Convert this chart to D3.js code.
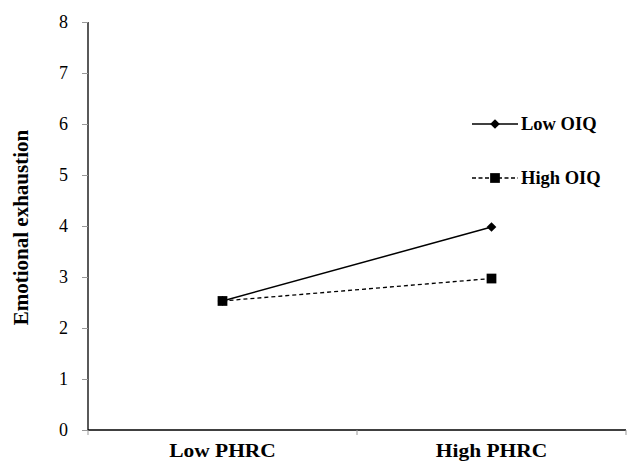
<!DOCTYPE html>
<html>
<head>
<meta charset="utf-8">
<script src="https://cdn.jsdelivr.net/npm/d3@7"></script>
<style>
  body { margin: 0; background: #fff; }
  svg text { font-family: "Liberation Serif", "DejaVu Serif", serif !important; fill: #000; }
</style>
</head>
<body>
<div class="chart"></div>
<script>
// chart data
var categories = ["Low PHRC", "High PHRC"];
var seriesNames = ["Low OIQ", "High OIQ"];
var lowOIQ = [2.53, 3.98];
var highOIQ = [2.53, 2.97];
var yTicks = [0, 1, 2, 3, 4, 5, 6, 7, 8];

var svgWidth = 629, svgHeight = 465;
var margin = { top: 22, right: 3, bottom: 35, left: 88 };
var width = svgWidth - margin.left - margin.right;
var height = svgHeight - margin.top - margin.bottom;

var svg = d3.select(".chart").append("svg")
  .attr("width", svgWidth)
  .attr("height", svgHeight);

var chartGroup = svg.append("g")
  .attr("transform", `translate(${margin.left}, ${margin.top})`);

var xScale = d3.scaleBand().domain(categories).range([0, width]);
var yScale = d3.scaleLinear().domain([0, 8]).range([height, 0]);

// y axis
var leftAxis = d3.axisLeft(yScale).tickValues(yTicks).tickSize(6).tickPadding(14);
var yAxisG = chartGroup.append("g").call(leftAxis).attr("font-family", null);
yAxisG.select(".domain").attr("stroke", "#000").attr("stroke-width", 1.3).attr("d", `M0,0V${height}`);
yAxisG.selectAll(".tick line").attr("stroke", "#999");
yAxisG.selectAll(".tick text").style("font-size", "18px").attr("dy", "0.3em");

// x axis
var bottomAxis = d3.axisBottom(xScale).tickSize(0).tickPadding(14);
var xAxisG = chartGroup.append("g")
  .attr("transform", `translate(0, ${height})`)
  .call(bottomAxis).attr("font-family", null);
xAxisG.select(".domain").attr("stroke", "#000").attr("stroke-width", 1.3).attr("d", `M0,0H${width}`);
xAxisG.selectAll(".tick text")
  .style("font-size", "19px").style("font-weight", "bold")
  .each(function () {
    var w = this.getComputedTextLength();
    d3.select(this).attr("textLength", w * 1.13).attr("lengthAdjust", "spacingAndGlyphs");
  });
// boundary ticks between categories
[0, xScale.bandwidth(), width].forEach(function (x) {
  chartGroup.append("line")
    .attr("x1", x).attr("x2", x)
    .attr("y1", height).attr("y2", height + 5)
    .attr("stroke", "#999");
});

// y label
svg.append("text")
  .attr("transform", "rotate(-90)")
  .attr("x", -227.5)
  .attr("y", 28)
  .attr("text-anchor", "middle")
  .style("font-size", "21px")
  .style("font-weight", "bold")
  .text("Emotional exhaustion");

var xc = d => xScale(d) + xScale.bandwidth() / 2;
var line = d3.line().x((d, i) => xc(categories[i])).y(d => yScale(d));

// lines
chartGroup.append("path").datum(highOIQ)
  .attr("d", line).attr("fill", "none").attr("stroke", "#000")
  .attr("stroke-width", 1.3).attr("stroke-dasharray", "4,3");
chartGroup.append("path").datum(lowOIQ)
  .attr("d", line).attr("fill", "none").attr("stroke", "#000")
  .attr("stroke-width", 1.5);

var diamond = d3.symbol().type(d3.symbolDiamond2).size(60);
var square = d3.symbol().type(d3.symbolSquare).size(95);

chartGroup.selectAll(".lowPt").data(lowOIQ).enter().append("path")
  .attr("transform", (d, i) => `translate(${xc(categories[i])}, ${yScale(d)})`)
  .attr("d", diamond).attr("fill", "#000");
chartGroup.selectAll(".highPt").data(highOIQ).enter().append("path")
  .attr("transform", (d, i) => `translate(${xc(categories[i])}, ${yScale(d)})`)
  .attr("d", square).attr("fill", "#000");

// legend
var legend = svg.append("g").attr("transform", "translate(472, 124)");
var legendRows = [
  { name: seriesNames[0], dash: null, sym: diamond, y: 0 },
  { name: seriesNames[1], dash: "4,2.5", sym: square, y: 54 }
];
legendRows.forEach(function (r) {
  var g = legend.append("g").attr("transform", `translate(0, ${r.y})`);
  g.append("line").attr("x1", 0).attr("x2", 46).attr("y1", 0).attr("y2", 0)
    .attr("stroke", "#000").attr("stroke-width", 1.5)
    .attr("stroke-dasharray", r.dash);
  g.append("path").attr("transform", "translate(23, 0)").attr("d", r.sym).attr("fill", "#000");
  g.append("text").attr("x", 49).attr("y", 6)
    .style("font-size", "18.5px").style("font-weight", "bold")
    .text(r.name);
});
</script>
</body>
</html>
